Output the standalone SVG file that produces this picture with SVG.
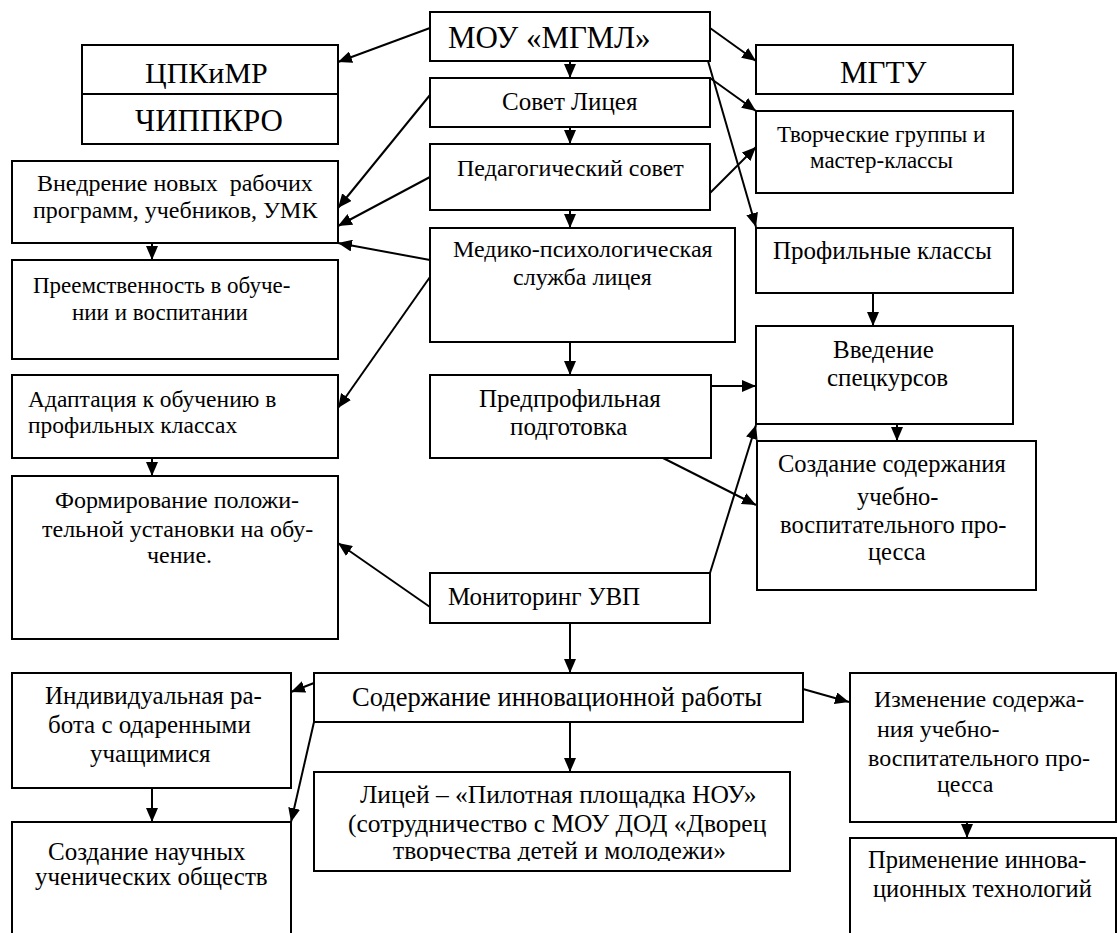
<svg xmlns="http://www.w3.org/2000/svg" width="1117" height="933" viewBox="0 0 1117 933">
<style>
.b{fill:#fff;stroke:#000;stroke-width:2}
.c{fill:none;stroke:#000;stroke-width:2;marker-end:url(#ah)}
</style>
<defs>
<marker id="ah" markerUnits="userSpaceOnUse" markerWidth="14" markerHeight="12" refX="14" refY="6" orient="auto">
<path d="M0,0 L14,6 L0,12 z" fill="#000"/>
</marker>
<clipPath id="clipL"><rect x="314" y="772" width="476" height="89"/></clipPath>
</defs>
<rect width="1117" height="933" fill="#fff"/>
<g id="nodes" font-family="Liberation Serif, serif" font-size="23" fill="#000">
<g id="n-mgml"><rect class="b" x="430" y="12" width="280" height="49"/><text font-size="31" x="448" y="48">МОУ «МГМЛ»</text></g>
<g id="n-cpk"><rect class="b" x="82" y="45" width="256" height="49"/><text font-size="30" x="145" y="83">ЦПКиМР</text></g>
<g id="n-chippkro"><rect class="b" x="82" y="94" width="256" height="50"/><text font-size="31" x="135" y="131">ЧИППКРО</text></g>
<g id="n-mgtu"><rect class="b" x="756" y="45" width="257" height="49"/><text font-size="31" x="840" y="83">МГТУ</text></g>
<g id="n-sovet" font-size="25"><rect class="b" x="430" y="78" width="280" height="49"/><text x="502" y="110">Совет Лицея</text></g>
<g id="n-ped" font-size="24"><rect class="b" x="430" y="144" width="280" height="66"/><text x="457" y="176">Педагогический совет</text></g>
<g id="n-med" font-size="24"><rect class="b" x="430" y="228" width="305" height="114"/><text x="453" y="257">Медико-психологическая</text><text x="513" y="285">служба лицея</text></g>
<g id="n-tvor"><rect class="b" x="756" y="111" width="257" height="82"/><text x="777" y="142">Творческие группы и</text><text x="810" y="168">мастер-классы</text></g>
<g id="n-prof" font-size="25"><rect class="b" x="756" y="228" width="257" height="65"/><text x="773" y="259">Профильные классы</text></g>
<g id="n-vnedr" font-size="24"><rect class="b" x="12" y="161" width="326" height="82"/><text x="37" y="191" xml:space="preserve">Внедрение новых  рабочих</text><text x="33" y="218">программ, учебников, УМК</text></g>
<g id="n-preem"><rect class="b" x="12" y="260" width="326" height="99"/><text x="33" y="293">Преемственность в обуче-</text><text x="72" y="320">нии и воспитании</text></g>
<g id="n-adapt" font-size="23.5"><rect class="b" x="12" y="375" width="326" height="83"/><text x="28" y="407">Адаптация к обучению в</text><text x="28" y="433">профильных классах</text></g>
<g id="n-form" font-size="24"><rect class="b" x="12" y="476" width="326" height="163"/><text x="55" y="508">Формирование положи-</text><text x="42" y="537">тельной установки на обу-</text><text x="147" y="563">чение.</text></g>
<g id="n-predprof" font-size="25"><rect class="b" x="430" y="375" width="281" height="83"/><text x="479" y="407">Предпрофильная</text><text x="510" y="435">подготовка</text></g>
<g id="n-vved" font-size="25"><rect class="b" x="756" y="326" width="257" height="98"/><text x="833" y="358">Введение</text><text x="827" y="386">спецкурсов</text></g>
<g id="n-sozd" font-size="24.5"><rect class="b" x="757" y="441" width="279" height="149"/><text x="778" y="472">Создание содержания</text><text x="857" y="505">учебно-</text><text x="780" y="533">воспитательного про-</text><text x="868" y="560">цесса</text></g>
<g id="n-monit" font-size="25"><rect class="b" x="430" y="573" width="280" height="50"/><text x="448" y="605">Мониторинг УВП</text></g>
<g id="n-soder" font-size="26.5"><rect class="b" x="314" y="673" width="489" height="49"/><text x="352" y="706">Содержание инновационной работы</text></g>
<g id="n-indiv" font-size="25"><rect class="b" x="12" y="673" width="279" height="115"/><text x="45" y="704">Индивидуальная ра-</text><text x="48" y="733">бота с одаренными</text><text x="90" y="762">учащимися</text></g>
<g id="n-nauch" font-size="25"><rect class="b" x="12" y="822" width="279" height="130"/><text x="48" y="860">Создание научных</text><text x="35" y="885">ученических обществ</text></g>
<g id="n-licey" font-size="25.5"><rect class="b" x="314" y="772" width="476" height="99"/><g clip-path="url(#clipL)"><text x="360" y="803">Лицей – «Пилотная площадка НОУ»</text><text x="348" y="832">(сотрудничество с МОУ ДОД «Дворец</text><text x="393" y="859">творчества детей и молодежи»</text></g></g>
<g id="n-izm" font-size="24"><rect class="b" x="850" y="673" width="266" height="149"/><text x="874" y="707">Изменение содержа-</text><text x="877" y="737">ния учебно-</text><text x="868" y="766">воспитательного про-</text><text x="937" y="792">цесса</text></g>
<g id="n-prim" font-size="24.5"><rect class="b" x="850" y="838" width="266" height="110"/><text x="868" y="868">Применение иннова-</text><text x="873" y="897">ционных технологий</text></g>
</g>
<g id="connectors">
<line class="c" x1="430" y1="28" x2="338" y2="62"/>
<line class="c" x1="570" y1="61" x2="570" y2="78"/>
<line class="c" x1="710" y1="28" x2="756" y2="61"/>
<line class="c" x1="710" y1="78" x2="756" y2="111"/>
<line class="c" x1="708" y1="61" x2="756" y2="227"/>
<line class="c" x1="430" y1="95" x2="338" y2="208"/>
<line class="c" x1="430" y1="177" x2="338" y2="226"/>
<line class="c" x1="430" y1="260" x2="338" y2="243"/>
<line class="c" x1="430" y1="277" x2="338" y2="408"/>
<line class="c" x1="570" y1="127" x2="570" y2="144"/>
<line class="c" x1="570" y1="210" x2="570" y2="228"/>
<line class="c" x1="710" y1="193" x2="756" y2="147"/>
<line class="c" x1="152" y1="243" x2="152" y2="260"/>
<line class="c" x1="152" y1="458" x2="152" y2="476"/>
<line class="c" x1="570" y1="342" x2="570" y2="375"/>
<line class="c" x1="873" y1="293" x2="873" y2="326"/>
<line class="c" x1="711" y1="386" x2="756" y2="386"/>
<line class="c" x1="897" y1="424" x2="897" y2="441"/>
<line class="c" x1="663" y1="458" x2="756" y2="505"/>
<line class="c" x1="710" y1="573" x2="756" y2="425"/>
<line class="c" x1="430" y1="607" x2="338" y2="543"/>
<line class="c" x1="570" y1="623" x2="570" y2="673"/>
<line class="c" x1="314" y1="683" x2="291" y2="692"/>
<line class="c" x1="314" y1="722" x2="291" y2="822"/>
<line class="c" x1="152" y1="788" x2="152" y2="822"/>
<line class="c" x1="570" y1="722" x2="570" y2="772"/>
<line class="c" x1="803" y1="689" x2="849" y2="702"/>
<line class="c" x1="967" y1="822" x2="967" y2="838"/>
</g>
</svg>
